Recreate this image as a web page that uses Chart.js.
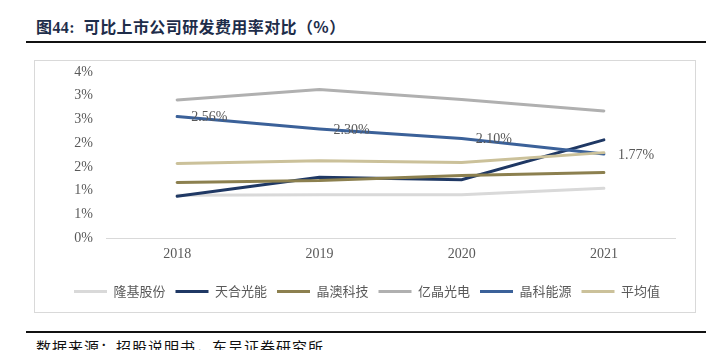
<!DOCTYPE html>
<html>
<head>
<meta charset="utf-8">
<script src="https://cdn.jsdelivr.net/npm/chart.js@4.4.0/dist/chart.umd.min.js"></script>
<style>
  html, body { margin: 0; padding: 0; background: #fff; width: 725px; height: 350px; overflow: hidden; position: relative; }
  .title { position: absolute; left: 36px; top: 14px; font-family: "Liberation Serif", "Noto Sans CJK SC", serif; font-weight: bold; font-size: 16px; color: #1e2d4a; white-space: nowrap; letter-spacing: 0.4px; }
  .title .cn { font-family: "Noto Sans CJK SC", sans-serif; }
  .rule { position: absolute; left: 26px; width: 680px; height: 2px; background: #111; }
  .box { position: absolute; left: 34px; top: 60px; width: 660px; height: 251px; border: 1px solid #d9d9d9; }
  .wrap { position: absolute; left: 35px; top: 61px; width: 660px; height: 251px; }
  .foot { position: absolute; left: 36px; top: 336px; font-family: "Noto Sans CJK SC", sans-serif; font-size: 15px; color: #111; letter-spacing: 1px; white-space: nowrap; }
</style>
</head>
<body>
<div class="title">图44:&nbsp; <span class="cn">可比上市公司研发费用率对比（%）</span></div>
<div class="rule" style="top:41px"></div>
<div class="box"></div>
<div class="wrap"><canvas id="c" width="660" height="251"></canvas></div>
<div class="rule" style="top:331px"></div>
<div class="foot">数据来源：招股说明书，东吴证券研究所</div>
<script>
const categories = ["2018", "2019", "2020", "2021"];
const seriesNames = ["隆基股份", "天合光能", "晶澳科技", "亿晶光电", "晶科能源", "平均值"];
const longi   = [0.90, 0.91, 0.91, 1.05];
const trina   = [0.88, 1.28, 1.23, 2.07];
const jaSolar = [1.17, 1.21, 1.32, 1.38];
const eging   = [2.91, 3.13, 2.92, 2.68];
const jinko   = [2.56, 2.30, 2.10, 1.77];
const average = [1.57, 1.63, 1.59, 1.80];
const labelledSeries = 4; // 晶科能源 carries data labels
const yTickStep = 0.5;
const yMax = 3.5;

const colors = ["#d9d9d9", "#1f3864", "#8c804f", "#b0b0b0", "#3b6199", "#cbc19a"];
const values = [longi, trina, jaSolar, eging, jinko, average];

const datasets = values.map((v, i) => ({
  label: seriesNames[i],
  data: v,
  borderColor: colors[i],
  backgroundColor: colors[i],
  borderWidth: 3,
  pointRadius: 0,
  tension: 0,
  borderCapStyle: 'round',
  order: values.length - 1 - i
}));

const dataLabels = {
  id: 'dataLabels',
  afterDatasetsDraw(chart) {
    const meta = chart.getDatasetMeta(labelledSeries);
    const ctx = chart.ctx;
    ctx.save();
    ctx.font = '14px "Liberation Serif", serif';
    ctx.fillStyle = '#595959';
    ctx.textAlign = 'left';
    ctx.textBaseline = 'middle';
    meta.data.forEach((pt, i) => {
      ctx.fillText(values[labelledSeries][i].toFixed(2) + '%', pt.x + 14, pt.y + 1);
    });
    ctx.restore();
  }
};

new Chart(document.getElementById('c'), {
  type: 'line',
  data: { labels: categories, datasets },
  options: {
    responsive: false,
    animation: false,
    layout: { padding: { left: 24, right: 20, top: 11, bottom: 4 } },
    plugins: {
      tooltip: { enabled: false },
      legend: {
        position: 'bottom',
        labels: {
          boxWidth: 33,
          boxHeight: 3,
          padding: 10,
          color: '#595959',
          font: { family: '"Noto Sans CJK SC", sans-serif', size: 13 },
          sort: (a, b) => a.datasetIndex - b.datasetIndex,
          generateLabels(chart) {
            const items = Chart.defaults.plugins.legend.labels.generateLabels(chart);
            items.forEach(it => { it.lineWidth = 0; });
            return items;
          }
        }
      }
    },
    scales: {
      x: {
        offset: true,
        grid: { display: false, drawTicks: false },
        border: { display: true, color: '#d9d9d9', width: 1 },
        ticks: { color: '#595959', font: { family: '"Liberation Serif", serif', size: 14 }, padding: 8 },
        afterFit(scale) { scale.height = 37; }
      },
      y: {
        min: 0,
        max: yMax,
        grid: { display: false, drawTicks: false },
        border: { display: false },
        ticks: {
          stepSize: yTickStep,
          color: '#595959',
          padding: 13,
          font: { family: '"Liberation Serif", serif', size: 14 },
          callback: v => Math.round(v) + '%'
        },
        afterFit(scale) { scale.width = 47; scale.paddingTop = 0; scale.paddingBottom = 0; }
      }
    }
  },
  plugins: [dataLabels]
});
</script>
</body>
</html>
